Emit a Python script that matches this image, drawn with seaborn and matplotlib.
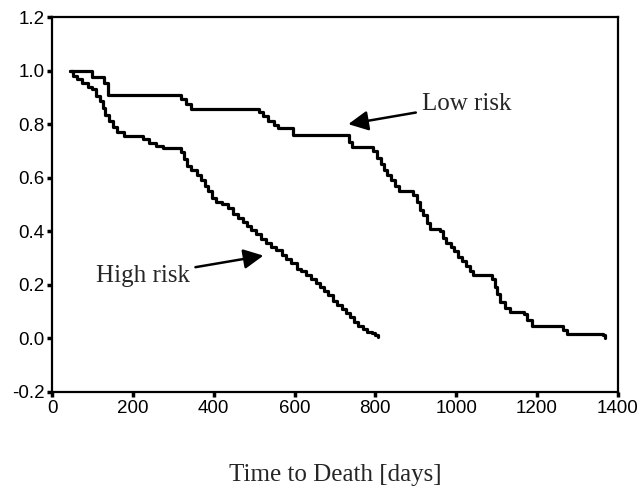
import matplotlib
matplotlib.use("Agg")
import matplotlib.pyplot as plt
import seaborn as sns
import pandas as pd

# Kaplan-Meier style survival estimates (time in days, survival after each step)
high_time = [45, 52, 62, 75, 88, 100, 110, 118, 125, 132, 140, 150, 162, 178,
             225, 240, 258, 275, 318, 326, 334, 345, 358, 368, 378, 386, 395,
             405, 420, 435, 448, 460, 472, 482, 492, 505, 518, 530, 543, 555,
             568, 580, 592, 605, 615, 628, 640, 652, 662, 672, 683, 695, 706,
             718, 728, 737, 748, 758, 770, 780, 792, 800, 807]
high_surv = [1.0, 0.98, 0.97, 0.955, 0.94, 0.93, 0.905, 0.885, 0.86, 0.835,
             0.81, 0.79, 0.77, 0.755, 0.745, 0.73, 0.72, 0.71, 0.695, 0.67,
             0.645, 0.63, 0.61, 0.59, 0.57, 0.55, 0.525, 0.51, 0.50, 0.485,
             0.465, 0.45, 0.435, 0.42, 0.405, 0.39, 0.37, 0.355, 0.34, 0.33,
             0.31, 0.295, 0.28, 0.26, 0.25, 0.235, 0.22, 0.205, 0.19, 0.175,
             0.16, 0.14, 0.125, 0.11, 0.095, 0.08, 0.06, 0.045, 0.035, 0.025,
             0.02, 0.012, 0.005]

low_time = [45, 100, 128, 138, 320, 332, 345, 512, 522, 535, 548, 558, 595,
            735, 742, 795, 805, 815, 822, 830, 838, 848, 858, 893, 902, 910,
            918, 927, 935, 960, 968, 976, 986, 995, 1005, 1015, 1025, 1035,
            1042, 1088, 1095, 1100, 1108, 1120, 1133, 1168, 1175, 1187, 1265,
            1273, 1364, 1367]
low_surv = [1.0, 0.975, 0.955, 0.91, 0.895, 0.875, 0.857, 0.845, 0.83, 0.81,
            0.795, 0.785, 0.76, 0.735, 0.715, 0.70, 0.675, 0.65, 0.63, 0.61,
            0.59, 0.57, 0.55, 0.535, 0.51, 0.48, 0.46, 0.43, 0.41, 0.40, 0.375,
            0.355, 0.34, 0.325, 0.305, 0.29, 0.27, 0.25, 0.235, 0.22, 0.19,
            0.165, 0.135, 0.115, 0.10, 0.09, 0.07, 0.045, 0.03, 0.018, 0.012,
            0.003]

x_ticks = [0, 200, 400, 600, 800, 1000, 1200, 1400]
y_ticks = [-0.2, 0.0, 0.2, 0.4, 0.6, 0.8, 1.0, 1.2]
y_tick_labels = ["-0.2", "0.0", "0.2", "0.4", "0.6", "0.8", "1.0", "1.2"]

df = pd.concat([
    pd.DataFrame({"time": high_time, "survival": high_surv, "group": "High risk"}),
    pd.DataFrame({"time": low_time, "survival": low_surv, "group": "Low risk"}),
], ignore_index=True)

sns.set_style("ticks")
plt.rcParams["font.family"] = ["Liberation Sans", "DejaVu Sans"]

fig = plt.figure(figsize=(6.43, 4.88), dpi=100)
ax = fig.add_axes([0.0809, 0.197, 0.880, 0.768])

sns.lineplot(data=df, x="time", y="survival", hue="group",
             palette=["black", "black"], drawstyle="steps-post",
             estimator=None, sort=False, legend=False, linewidth=2.3, ax=ax)

ax.set_xlim(0, 1400)
ax.set_ylim(-0.2, 1.2)
ax.set_xticks(x_ticks)
ax.set_yticks(y_ticks)
ax.set_yticklabels(y_tick_labels)
ax.tick_params(axis="both", direction="out", length=3.5, width=2.5,
               labelsize=13.5, pad=2, colors="black")
for side in ["left", "bottom", "top", "right"]:
    ax.spines[side].set_visible(True)
    ax.spines[side].set_linewidth(1.6)
    ax.spines[side].set_color("black")

ax.set_ylabel("")
ax.set_xlabel("Time to Death [days]", fontsize=18, family="Liberation Serif",
              labelpad=34)

arrow = dict(arrowstyle="-|>", color="black", lw=1.8, mutation_scale=30,
             shrinkA=2, shrinkB=0)
ax.annotate("Low risk", xy=(733, 0.80), xytext=(915, 0.876),
            fontsize=18, family="Liberation Serif", va="center", ha="left",
            arrowprops=arrow)
ax.annotate("High risk", xy=(523, 0.309), xytext=(340, 0.232),
            fontsize=18, family="Liberation Serif", va="center", ha="right",
            arrowprops=arrow)

fig.savefig("out.png", dpi=100)
